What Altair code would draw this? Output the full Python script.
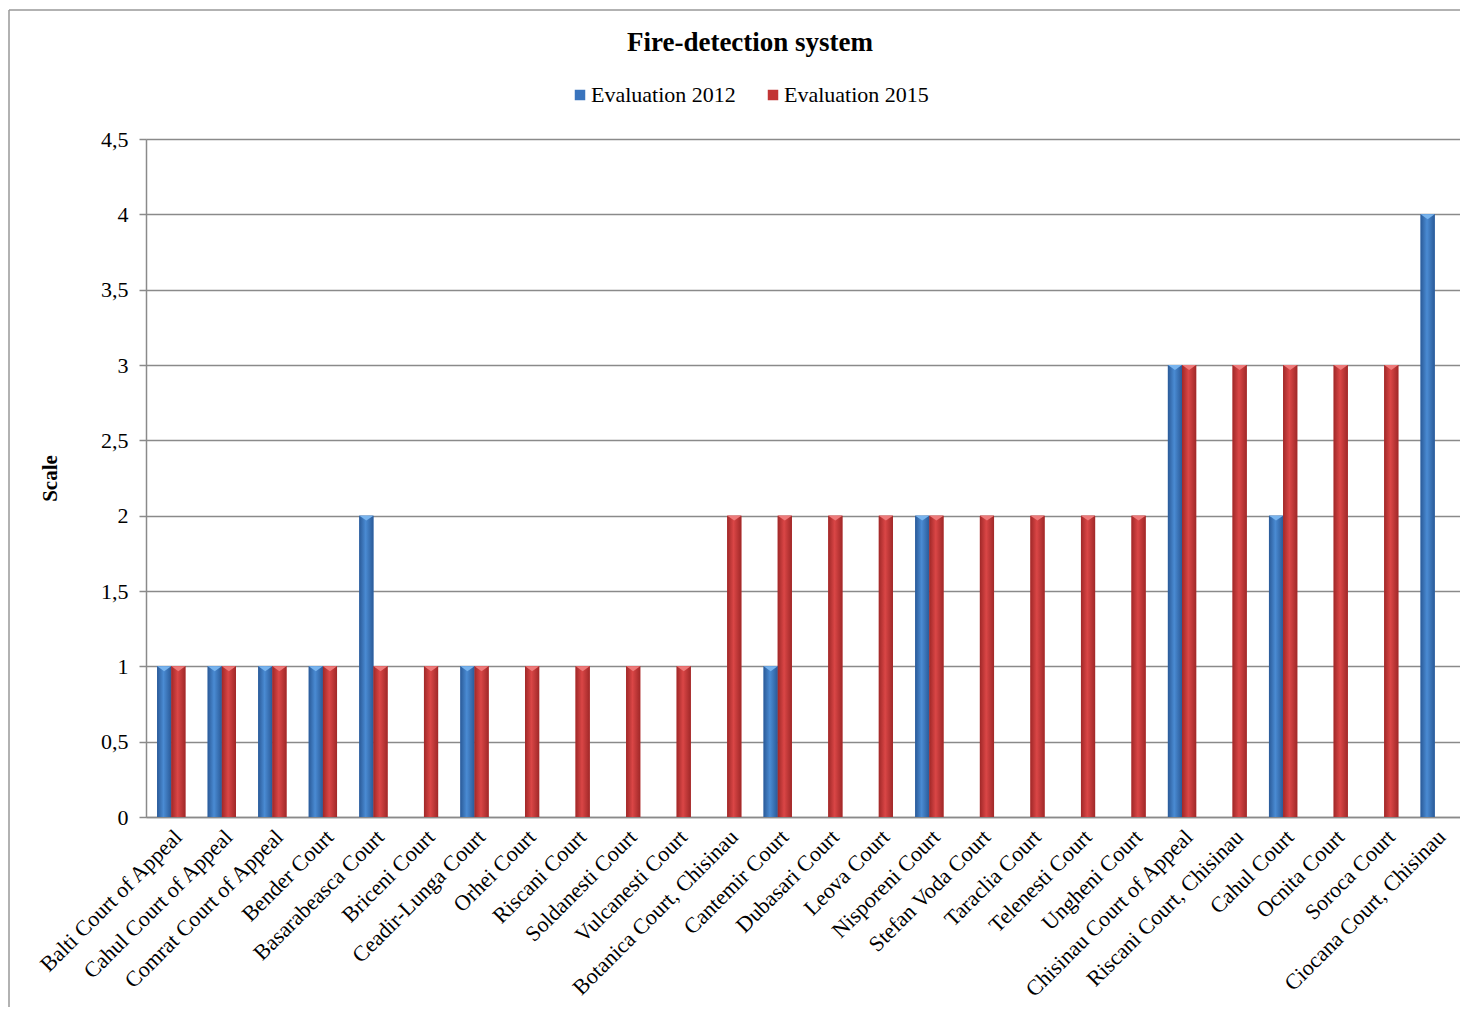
import altair as alt
import pandas as pd

courts = [
    "Balti Court of Appeal", "Cahul Court of Appeal", "Comrat Court of Appeal",
    "Bender Court", "Basarabeasca Court", "Briceni Court", "Ceadir-Lunga Court",
    "Orhei Court", "Riscani Court", "Soldanesti Court", "Vulcanesti Court",
    "Botanica Court, Chisinau", "Cantemir Court", "Dubasari Court", "Leova Court",
    "Nisporeni Court", "Stefan Voda Court", "Taraclia Court", "Telenesti Court",
    "Ungheni Court", "Chisinau Court of Appeal", "Riscani Court, Chisinau",
    "Cahul Court", "Ocnita Court", "Soroca Court", "Ciocana Court, Chisinau",
]
eval_2012 = [1, 1, 1, 1, 2, 0, 1, 0, 0, 0, 0, 0, 1, 0, 0, 2, 0, 0, 0, 0, 3, 0, 2, 0, 0, 4]
eval_2015 = [1, 1, 1, 1, 1, 1, 1, 1, 1, 1, 1, 2, 2, 2, 2, 2, 2, 2, 2, 2, 3, 3, 3, 3, 3, 0]
series = ["Evaluation 2012", "Evaluation 2015"]
y_ticks = [0, 0.5, 1, 1.5, 2, 2.5, 3, 3.5, 4, 4.5]

rows = []
for c, a, b in zip(courts, eval_2012, eval_2015):
    rows.append({"court": c, "series": series[0], "value": a})
    rows.append({"court": c, "series": series[1], "value": b})
df = pd.DataFrame(rows)
df = df[df["value"] > 0]

FONT = "Liberation Serif"
W, H = 1314, 678

x_enc = alt.X("court:N", sort=courts, title=None,
              scale=alt.Scale(paddingInner=0.44, paddingOuter=0.22),
              axis=alt.Axis(labelAngle=-45, ticks=False, labelPadding=9,
                            labelFont=FONT, labelFontSize=22, labelColor="black",
                            domainColor="#8a8a8a", domainWidth=1.5, labelLimit=400))
xo_enc = alt.XOffset("series:N", scale=alt.Scale(domain=series, paddingInner=0, paddingOuter=0))
y_enc = alt.Y("value:Q", title="Scale",
              scale=alt.Scale(domain=[0, 4.5], nice=False),
              axis=alt.Axis(values=y_ticks, labelExpr="replace(toString(datum.value), '.', ',')",
                            labelFont=FONT, labelFontSize=22, labelColor="black", labelPadding=11,
                            tickSize=7, tickColor="#8a8a8a", tickWidth=1.5,
                            domainColor="#8a8a8a", domainWidth=1.5,
                            grid=True, gridColor="#8a8a8a", gridWidth=1.5,
                            titleFont=FONT, titleFontSize=21, titleFontWeight="bold",
                            titleColor="black", titlePadding=40))

base = alt.Chart(df).encode(x=x_enc, xOffset=xo_enc, y=y_enc)

solid = base.mark_bar().encode(
    color=alt.Color("series:N",
                    scale=alt.Scale(domain=series, range=["#3a74bd", "#c23535"]),
                    legend=alt.Legend(orient="none", legendX=423, legendY=-55,
                                      direction="horizontal", title=None,
                                      symbolType="square", symbolSize=110,
                                      symbolStrokeWidth=0,
                                      labelFont=FONT, labelFontSize=22, labelColor="black",
                                      columnPadding=26, labelOffset=0))
)

def grad(edge, mid):
    return alt.Gradient(gradient="linear", x1=0, x2=1, y1=0, y2=0,
                        stops=[alt.GradientStop(color=edge, offset=0),
                               alt.GradientStop(color=mid, offset=0.45),
                               alt.GradientStop(color=edge, offset=1)])

blue_bars = base.transform_filter(alt.datum.series == series[0]).mark_bar(
    fill=grad("#2a5a98", "#4a8bd3"))
red_bars = base.transform_filter(alt.datum.series == series[1]).mark_bar(
    fill=grad("#a02828", "#da4646"))

tri_shape = "M-1,0 L1,0 L0,0.7 Z"
blue_tri = base.transform_filter(alt.datum.series == series[0]).mark_point(
    shape=tri_shape, filled=True, size=196, color="#78b4ee", opacity=1)
red_tri = base.transform_filter(alt.datum.series == series[1]).mark_point(
    shape=tri_shape, filled=True, size=196, color="#ee7a7a", opacity=1)

frame_data = alt.Data(values=[{"k": 1}])
left_rule = alt.Chart(frame_data).mark_rule(color="#999999", strokeWidth=1.5).encode(
    x=alt.value(-137), y=alt.value(-129), y2=alt.value(H + 200))
top_rule = alt.Chart(frame_data).mark_rule(color="#999999", strokeWidth=1.5).encode(
    x=alt.value(-137), x2=alt.value(W + 10), y=alt.value(-129))

chart = alt.layer(solid, blue_bars, red_bars, blue_tri, red_tri, left_rule, top_rule).properties(
    width=W, height=H,
    title=alt.Title("Fire-detection system", font=FONT, fontSize=27, fontWeight="bold",
                    color="black", anchor="middle", frame="group", dx=-53, offset=-69,
                    baseline="alphabetic"),
    autosize=alt.AutoSizeParams(type="none"),
    padding={"left": 138, "top": 131, "right": 0, "bottom": 190},
).configure_view(stroke=None).configure(background="white")

chart.save("out.html", embed_options={"renderer": "svg", "actions": False})
